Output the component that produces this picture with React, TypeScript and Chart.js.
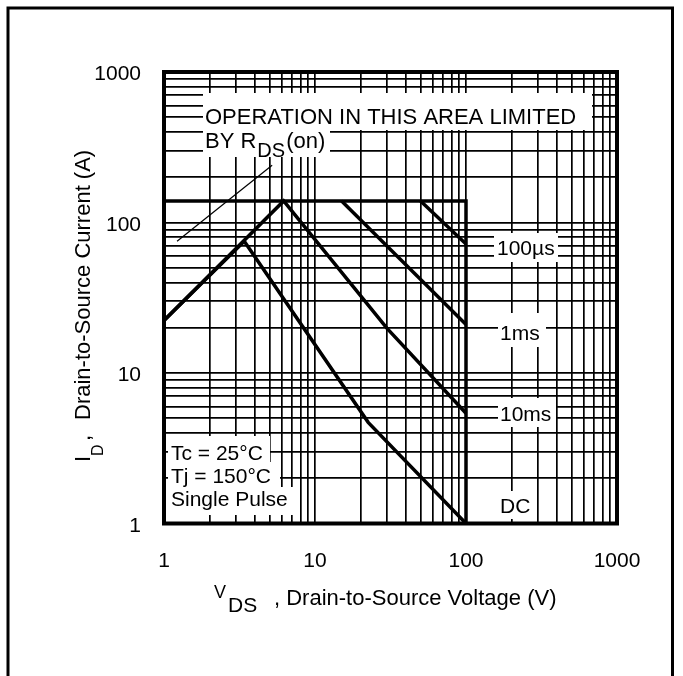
import React, { useEffect, useRef } from 'react';
import { Chart, registerables } from 'chart.js';

Chart.register(...registerables);

// Axis tick labels (log decades)
const X_TICK_LABELS = [1, 10, 100, 1000];
const Y_TICK_LABELS = [1, 10, 100, 1000];
const DECADES = [1, 10, 100];
const MULTIPLIERS = [1, 2, 3, 4, 5, 6, 7, 8, 9];
const AXIS_MIN = 1;
const AXIS_MAX = 1000;

// Package / temperature limit (horizontal current limit, vertical voltage limit)
const LIMIT_V = [1, 100, 100];
const LIMIT_I = [139, 139, 1];
// DC curve
const DC_V = [1, 3.4, 22.5, 100];
const DC_I = [22.3, 75, 4.7, 1];
// 10 ms curve
const MS10_V = [1, 6.2, 30, 100];
const MS10_I = [22.3, 139, 19.8, 5.4];
// 1 ms curve
const MS1_V = [15, 100];
const MS1_I = [139, 21];
// 100 us curve
const US100_V = [50, 100];
const US100_I = [139, 72];
// RDS(on) limit indicator line
const RDS_V = [1.22, 5.2];
const RDS_I = [75, 240];

const FONT = '"Liberation Sans", Arial, Helvetica, sans-serif';

const pts = (xs: number[], ys: number[]) => xs.map((x, i) => ({ x, y: ys[i] }));

const GRID_VALUES: number[] = [];
DECADES.forEach((d) => MULTIPLIERS.forEach((m) => GRID_VALUES.push(d * m)));
GRID_VALUES.push(AXIS_MAX);

const overlay = {
  id: 'overlay',
  afterDraw(chart: any) {
    const ctx: CanvasRenderingContext2D = chart.ctx;
    const { left, right, top, bottom } = chart.chartArea;
    ctx.save();

    const txt = (s: string, x: number, y: number, size: number) => {
      ctx.font = `${size}px ${FONT}`;
      ctx.textAlign = 'left';
      ctx.textBaseline = 'alphabetic';
      ctx.fillStyle = '#000';
      ctx.fillText(s, x, y);
      return ctx.measureText(s).width;
    };

    // white label backgrounds
    ctx.fillStyle = '#fff';
    const boxes: [number, number, number, number][] = [
      [203, 93, 592, 130],
      [203, 130, 330, 157],
      [494, 233, 558, 262],
      [498, 313, 546, 347],
      [498, 398, 556, 427],
      [497, 491, 535, 519],
      [168, 436, 270, 462],
      [168, 462, 280, 487],
      [168, 487, 296, 515],
    ];
    boxes.forEach(([x1, y1, x2, y2]) => ctx.fillRect(x1, y1, x2 - x1, y2 - y1));

    // annotation texts
    txt('OPERATION IN THIS AREA LIMITED', 205, 124, 22);
    const w = txt('BY R', 205, 148, 22);
    const w2 = txt('DS', 205 + w + 1, 157, 20);
    txt('(on)', 205 + w + 1 + w2 + 1, 148, 22);
    txt('100\u00B5s', 497, 255, 21);
    txt('1ms', 500, 340, 21);
    txt('10ms', 500, 421, 21);
    txt('DC', 500, 513, 21);
    txt('Tc = 25\u00B0C', 171, 460, 21);
    txt('Tj = 150\u00B0C', 171, 483, 21);
    txt('Single Pulse', 171, 506, 21);

    // plot frame
    ctx.strokeStyle = '#000';
    ctx.lineWidth = 4;
    ctx.strokeRect(left, top, right - left, bottom - top);

    // x axis title
    txt('V', 214, 598, 18);
    txt('DS', 228, 612, 21);
    txt(', Drain-to-Source Voltage (V)', 274, 605, 22);

    // y axis title (rotated)
    const rtxt = (s: string, bx: number, y0: number, size: number) => {
      ctx.save();
      ctx.translate(bx, y0);
      ctx.rotate(-Math.PI / 2);
      txt(s, 0, 0, size);
      ctx.restore();
    };
    rtxt('I', 90, 462, 22);
    rtxt('D', 103, 456, 16);
    rtxt(',', 90, 441, 22);
    rtxt('Drain-to-Source Current (A)', 90, 420, 22);

    // outer frame
    ctx.lineWidth = 3;
    ctx.beginPath();
    ctx.moveTo(8, 700);
    ctx.lineTo(8, 8);
    ctx.lineTo(672.5, 8);
    ctx.lineTo(672.5, 700);
    ctx.stroke();

    ctx.restore();
  },
};

export default function App() {
  const ref = useRef<HTMLCanvasElement>(null);

  useEffect(() => {
    const canvas = ref.current;
    if (!canvas) return;
    Chart.defaults.font.family = FONT;
    Chart.defaults.color = '#000';

    const setTicks = (scale: any) => {
      scale.ticks = GRID_VALUES.map((v) => ({ value: v }));
    };

    const curve = (data: { x: number; y: number }[], width: number) => ({
      data,
      borderColor: '#000',
      backgroundColor: '#000',
      borderWidth: width,
      pointRadius: 0,
      tension: 0,
      fill: false,
      borderJoinStyle: 'miter' as const,
    });

    const chart = new Chart(canvas, {
      type: 'line',
      data: {
        datasets: [
          curve(pts(LIMIT_V, LIMIT_I), 3.5),
          curve(pts(DC_V, DC_I), 3.5),
          curve(pts(MS10_V, MS10_I), 3.5),
          curve(pts(MS1_V, MS1_I), 3.5),
          curve(pts(US100_V, US100_I), 3.5),
          curve(pts(RDS_V, RDS_I), 1.2),
        ],
      },
      options: {
        responsive: false,
        animation: false,
        devicePixelRatio: 1,
        layout: { padding: { left: 10, right: 66, top: 72, bottom: 92.5 } },
        plugins: { legend: { display: false }, tooltip: { enabled: false }, title: { display: false } },
        scales: {
          x: {
            type: 'logarithmic',
            min: AXIS_MIN,
            max: AXIS_MAX,
            afterBuildTicks: setTicks,
            afterFit: (s: any) => {
              s.height = 60;
            },
            border: { display: false },
            grid: { color: '#000', lineWidth: 1.7, drawTicks: false },
            ticks: {
              autoSkip: false,
              maxRotation: 0,
              padding: 25,
              font: { size: 21, family: FONT },
              color: '#000',
              callback: (v: any) => (X_TICK_LABELS.includes(Number(v)) ? String(v) : ''),
            },
          },
          y: {
            type: 'logarithmic',
            min: AXIS_MIN,
            max: AXIS_MAX,
            afterBuildTicks: setTicks,
            afterFit: (s: any) => {
              s.width = 154;
            },
            border: { display: false },
            grid: { color: '#000', lineWidth: 1.7, drawTicks: false },
            ticks: {
              autoSkip: false,
              padding: 23,
              labelOffset: 2.5,
              font: { size: 21, family: FONT },
              color: '#000',
              callback: (v: any) => (Y_TICK_LABELS.includes(Number(v)) ? String(v) : ''),
            },
          },
        },
      },
      plugins: [overlay],
    });
    return () => chart.destroy();
  }, []);

  return (
    <div style={{ position: 'absolute', left: 0, top: 0, width: 683, height: 676, background: '#fff' }}>
      <canvas ref={ref} width={683} height={676} style={{ display: 'block' }} />
    </div>
  );
}
